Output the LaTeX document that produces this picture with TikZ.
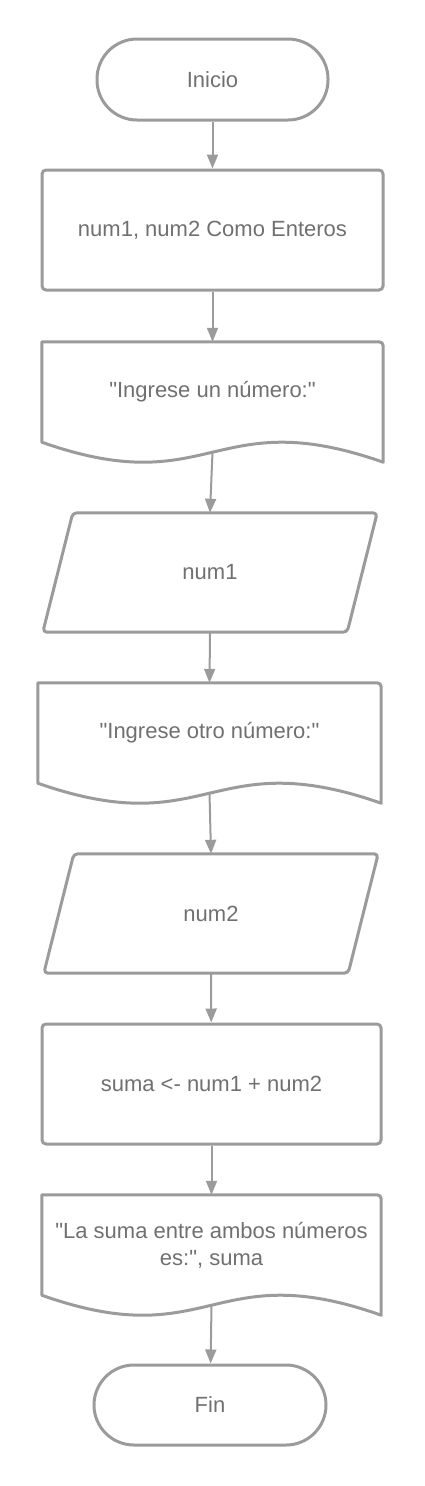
\documentclass[tikz,border=0pt]{standalone}
\usepackage{fontspec}
\newfontfamily\chartfont{Liberation Sans}
\usepackage{tikz}
\usetikzlibrary{arrows.meta}

\definecolor{lineC}{RGB}{155,155,155}
\definecolor{textC}{RGB}{112,112,112}

\tikzset{
  base/.style={draw=lineC, line width=3pt, text=textC, font=\chartfont\fontsize{22}{27}\selectfont, align=center},
  terminal/.style={base, minimum width=231pt, minimum height=81pt, rounded corners=40pt},
  procbox/.style={base, minimum width=341pt, minimum height=120pt, rounded corners=4pt},
  iotext/.style={text=textC, font=\chartfont\fontsize{22}{27}\selectfont, align=center, minimum width=304pt, minimum height=119pt, inner sep=0pt},
  docbox/.style={text=textC, font=\chartfont\fontsize{22}{27}\selectfont, align=center, minimum height=100pt, inner sep=0pt},
  docline/.style={draw=lineC, line width=3pt, line join=round},
  flow/.style={draw=lineC, line width=2pt, -{Triangle[length=14pt, width=11pt]}}
}

\begin{document}
\begin{tikzpicture}[x=1pt, y=-1pt]
\useasboundingbox (0,0) rectangle (424,1486);
% start
\node[terminal] (inicio) at (212.5,79.5) {Inicio};
% declaration
\node[procbox] (decl) at (212.5,230) {num1, num2 Como Enteros};
% first message
\node[docbox, minimum width=341pt] (msg1) at (212.5,392) {"Ingrese un número:"};
\draw[docline] (msg1.south west) -- (msg1.north west) [rounded corners=4pt] -- (msg1.north east) [sharp corners] -- ([yshift=-20pt]msg1.south east)
  .. controls ([xshift=-170.5pt,yshift=40pt]msg1.south east) and ([xshift=170.5pt,yshift=-60pt]msg1.south west) .. (msg1.south west) -- cycle;
\coordinate (msg1out) at ([yshift=-10pt]msg1.south);
% read num1
\node[iotext] (in1) at (210,572.5) {num1};
\draw[docline, rounded corners=4pt] ([xshift=15pt]in1.north west) -- ([xshift=15pt]in1.north east)
  -- ([xshift=-15pt]in1.south east) -- ([xshift=-15pt]in1.south west) -- cycle;
% second message
\node[docbox, minimum width=343pt] (msg2) at (209.5,733) {"Ingrese otro número:"};
\draw[docline] (msg2.south west) -- (msg2.north west) [rounded corners=4pt] -- (msg2.north east) [sharp corners] -- ([yshift=-20pt]msg2.south east)
  .. controls ([xshift=-171.5pt,yshift=40pt]msg2.south east) and ([xshift=171.5pt,yshift=-60pt]msg2.south west) .. (msg2.south west) -- cycle;
\coordinate (msg2out) at ([yshift=-10pt]msg2.south);
% read num2
\node[iotext] (in2) at (211,913.5) {num2};
\draw[docline, rounded corners=4pt] ([xshift=15pt]in2.north west) -- ([xshift=15pt]in2.north east)
  -- ([xshift=-15pt]in2.south east) -- ([xshift=-15pt]in2.south west) -- cycle;
% sum
\node[procbox, minimum width=339pt] (calc) at (211.5,1084) {suma <- num1 + num2};
% result message
\node[docbox, minimum width=339pt] (msg3) at (211.5,1245) {"La suma entre ambos números\\es:", suma};
\draw[docline] (msg3.south west) -- (msg3.north west) [rounded corners=4pt] -- (msg3.north east) [sharp corners] -- ([yshift=-20pt]msg3.south east)
  .. controls ([xshift=-169.5pt,yshift=40pt]msg3.south east) and ([xshift=169.5pt,yshift=-60pt]msg3.south west) .. (msg3.south west) -- cycle;
\coordinate (msg3out) at ([yshift=-10pt]msg3.south);
% end
\node[terminal, minimum width=232pt, minimum height=80pt] (fin) at (210,1405) {Fin};
% arrows
\draw[flow] (inicio) -- (decl);
\draw[flow] (decl) -- (msg1.north);
\draw[flow] (msg1out) -- (in1.north);
\draw[flow] (in1.south) -- (msg2.north);
\draw[flow] (msg2out) -- (in2.north);
\draw[flow] (in2.south) -- (calc);
\draw[flow] (calc) -- (msg3.north);
\draw[flow] (msg3out) -- (fin);
\end{tikzpicture}
\end{document}
